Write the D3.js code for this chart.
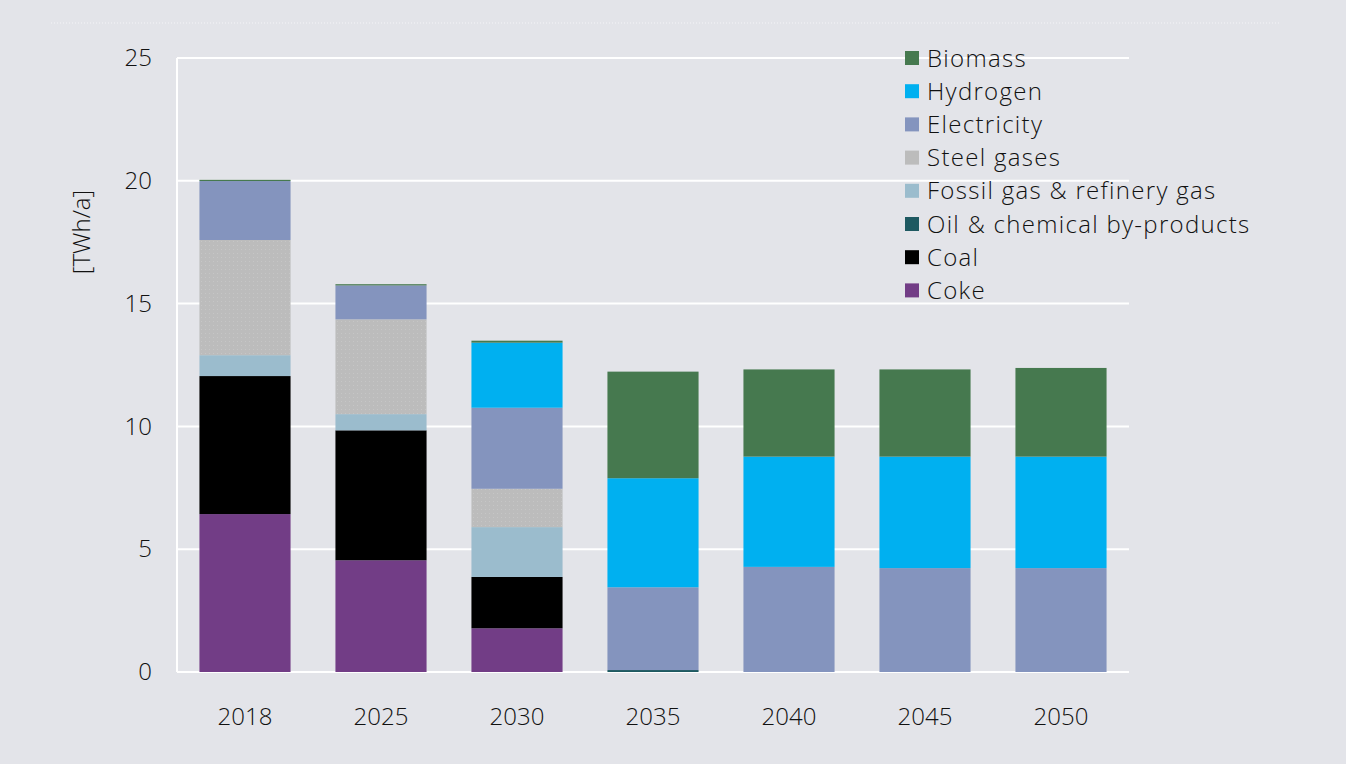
<!DOCTYPE html>
<html><head><meta charset="utf-8">
<script src="https://cdn.jsdelivr.net/npm/d3@7"></script>
<style>
html,body{margin:0;padding:0;background:#e3e4e9;}
svg{display:block;font-family:"Open Sans", sans-serif;font-weight:300;}
</style></head>
<body>
<svg id="chart" width="1346" height="764"></svg>
<script>
const categories = ['2018','2025','2030','2035','2040','2045','2050'];
const seriesNames = ['Coke','Coal','Oil & chemical by-products','Fossil gas & refinery gas','Steel gases','Electricity','Hydrogen','Biomass'];
const coke        = [6.43, 4.55, 1.78, 0, 0, 0, 0];
const coal        = [5.62, 5.29, 2.09, 0, 0, 0, 0];
const oilChem     = [0, 0, 0, 0.08, 0, 0, 0];
const fossilGas   = [0.85, 0.66, 2.03, 0, 0, 0, 0];
const steelGases  = [4.69, 3.86, 1.56, 0, 0, 0, 0];
const electricity = [2.40, 1.38, 3.30, 3.37, 4.28, 4.23, 4.23];
const hydrogen    = [0, 0, 2.65, 4.44, 4.49, 4.54, 4.54];
const biomass     = [0.05, 0.05, 0.08, 4.34, 3.55, 3.55, 3.61];
const yTicks = [0, 5, 10, 15, 20, 25];
const colors = ['#723d86','#000000','#1e5961','#9bbccd','#bcbcbc','#8494be','#00b0f0','#46794f'];
const legendOrder = ['Biomass','Hydrogen','Electricity','Steel gases','Fossil gas & refinery gas','Oil & chemical by-products','Coal','Coke'];

const seriesVals = [coke, coal, oilChem, fossilGas, steelGases, electricity, hydrogen, biomass];
const table = categories.map((c, i) => {
  const row = {cat: c};
  seriesNames.forEach((s, k) => row[s] = seriesVals[k][i]);
  return row;
});

const svg = d3.select('#chart');
const margin = {left: 177, right: 1129, top: 58, bottom: 672};
const textColor = '#111111';

// faint dotted line at top
svg.append('line').attr('x1', 51).attr('x2', 1279).attr('y1', 23).attr('y2', 23)
  .attr('stroke', '#f4f4f7').attr('stroke-width', 1).attr('stroke-dasharray', '1,2');

const x = d3.scaleBand().domain(categories).range([margin.left, margin.right]).paddingInner(0.33).paddingOuter(0.165);
const y = d3.scaleLinear().domain([0, 25]).range([margin.bottom, margin.top]);
const color = d3.scaleOrdinal().domain(seriesNames).range(colors);

// pattern for steel gases
const defs = svg.append('defs');
const pat = defs.append('pattern').attr('id', 'steel').attr('patternUnits', 'userSpaceOnUse').attr('width', 4).attr('height', 4);
pat.append('rect').attr('width', 4).attr('height', 4).attr('fill', '#bcbcbc');
pat.append('rect').attr('x', 1).attr('y', 1).attr('width', 1).attr('height', 1).attr('fill', '#c6c6c6');

// gridlines
svg.append('g').selectAll('line').data(yTicks).join('line')
  .attr('x1', margin.left).attr('x2', margin.right)
  .attr('y1', d => y(d)).attr('y2', d => y(d))
  .attr('stroke', '#ffffff').attr('stroke-width', 2);
svg.append('line').attr('x1', margin.left).attr('x2', margin.left)
  .attr('y1', y(25)).attr('y2', y(0)).attr('stroke', '#ffffff').attr('stroke-width', 2);

// y axis labels
const yAxis = d3.axisLeft(y).tickValues(yTicks).tickSize(0).tickPadding(25);
const ga = svg.append('g').attr('transform', `translate(${margin.left},0)`).call(yAxis);
ga.select('.domain').remove();
ga.selectAll('text').attr('font-size', 24).attr('fill', textColor).attr('font-family', '"Open Sans", sans-serif').attr('font-weight', 300);

// x axis labels
const xAxis = d3.axisBottom(x).tickSize(0).tickPadding(36);
const gx = svg.append('g').attr('transform', `translate(0,${margin.bottom})`).call(xAxis);
gx.select('.domain').remove();
gx.selectAll('text').attr('font-size', 24).attr('fill', textColor).attr('font-family', '"Open Sans", sans-serif').attr('font-weight', 300);

// y title
svg.append('text').attr('transform', 'translate(90,232) rotate(-90)')
  .attr('text-anchor', 'middle').attr('font-size', 24).attr('fill', textColor).text('[TWh/a]');

// stacked bars
const stack = d3.stack().keys(seriesNames)(table);
svg.append('g').selectAll('g').data(stack).join('g')
  .attr('fill', d => d.key === 'Steel gases' ? 'url(#steel)' : color(d.key))
  .selectAll('rect').data(d => d.filter(p => p[1] - p[0] > 0)).join('rect')
  .attr('x', d => x(d.data.cat))
  .attr('width', x.bandwidth())
  .attr('y', d => y(d[1]))
  .attr('height', d => y(d[0]) - y(d[1]));

// legend
const lg = svg.append('g');
legendOrder.forEach((name, i) => {
  const yy = 58 + i * 33.2;
  lg.append('rect').attr('x', 905).attr('y', yy - 7).attr('width', 14).attr('height', 14).attr('fill', color(name));
  lg.append('text').attr('x', 927).attr('y', yy).attr('dy', '0.36em')
    .attr('font-size', 24).attr('letter-spacing', 1.3).attr('fill', textColor).text(name);
});
</script>
</body></html>
